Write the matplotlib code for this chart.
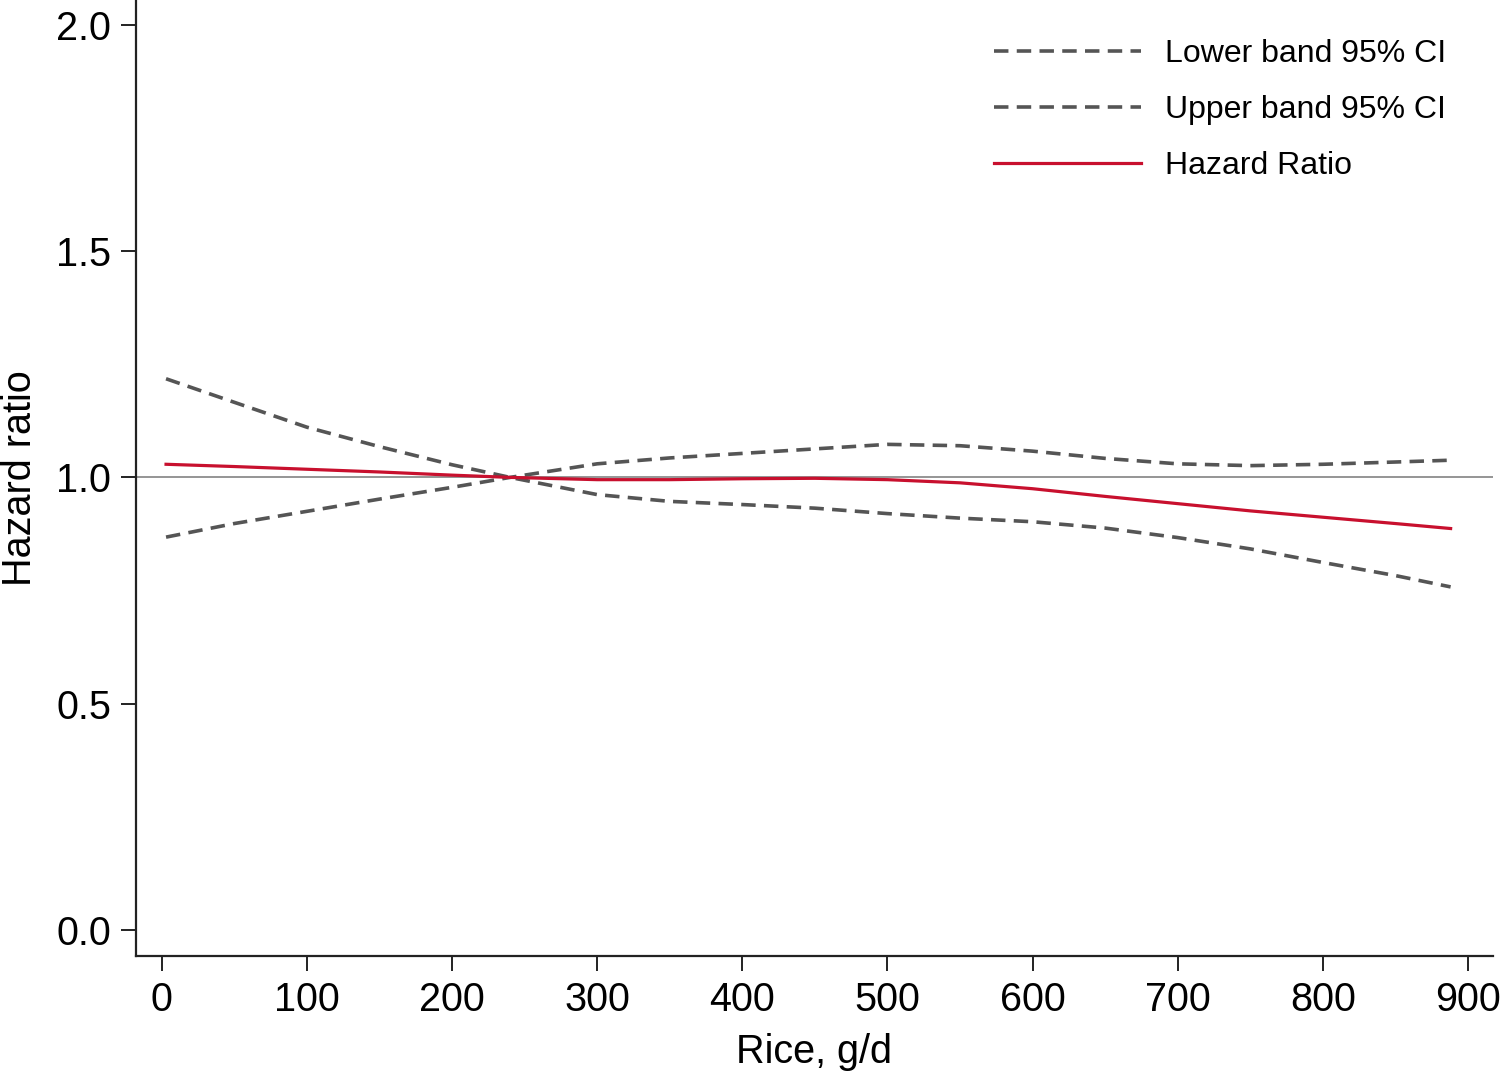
import matplotlib
matplotlib.use("Agg")
import matplotlib.pyplot as plt
import numpy as np

plt.rcParams['font.family'] = ['Liberation Sans', 'DejaVu Sans']

rice = [3, 50, 100, 150, 200, 240, 300, 350, 400, 450, 500, 550, 600, 650, 700, 750, 800, 850, 888]
band_a = [1.218, 1.166, 1.111, 1.068, 1.028, 1.0, 0.962, 0.947, 0.94, 0.932, 0.92, 0.91, 0.902, 0.888, 0.867, 0.842, 0.812, 0.783, 0.758]
band_b = [0.868, 0.898, 0.925, 0.952, 0.978, 1.0, 1.03, 1.043, 1.053, 1.063, 1.073, 1.07, 1.058, 1.042, 1.03, 1.026, 1.029, 1.034, 1.038]
hr = [1.029, 1.024, 1.018, 1.012, 1.005, 1.0, 0.995, 0.995, 0.997, 0.998, 0.995, 0.988, 0.975, 0.958, 0.942, 0.926, 0.912, 0.898, 0.887]

xticks = [0, 100, 200, 300, 400, 500, 600, 700, 800, 900]
yticks = [0.0, 0.5, 1.0, 1.5, 2.0]

fig = plt.figure(figsize=(15, 10.73), dpi=100)
ax = fig.add_axes([136/1500, 1 - 955.7/1073, (1493-136)/1500, 955.7/1073])

ax.axhline(1.0, color='#8c8c8c', lw=1.3, zorder=1)
dash = (0, (4.0, 2.3))
ax.plot(rice, band_a, color='#555555', lw=2.6, linestyle=dash, label='Lower band 95% CI', zorder=2)
ax.plot(rice, band_b, color='#555555', lw=2.6, linestyle=dash, label='Upper band 95% CI', zorder=2)
ax.plot(rice, hr, color='#c8102e', lw=2.3, label='Hazard Ratio', zorder=3)

ax.set_xlim(-17.7, 917.2)
ax.set_ylim(-0.057, 2.055)
ax.set_xticks(xticks)
ax.set_xticklabels([str(v) for v in xticks])
ax.set_yticks(yticks)
ax.set_yticklabels([f"{v:.1f}" for v in yticks])

for s in ['top', 'right']:
    ax.spines[s].set_visible(False)
for s in ['left', 'bottom']:
    ax.spines[s].set_linewidth(1.6)
    ax.spines[s].set_color('#222222')

ax.tick_params(axis='both', length=11, width=1.4, color='#222222', labelsize=28.5, pad=7)
ax.set_xlabel('Rice, g/d', fontsize=28.5, labelpad=10)
ax.set_ylabel('Hazard ratio', fontsize=28.5, labelpad=12.5)

leg = fig.legend(loc='upper left', frameon=False, fontsize=23, handlelength=4.6,
                 handletextpad=0.75, labelspacing=0.82, borderpad=0.4,
                 bbox_to_anchor=(965/1500, 1 - 10/1073))

fig.savefig('out.png', dpi=100)
